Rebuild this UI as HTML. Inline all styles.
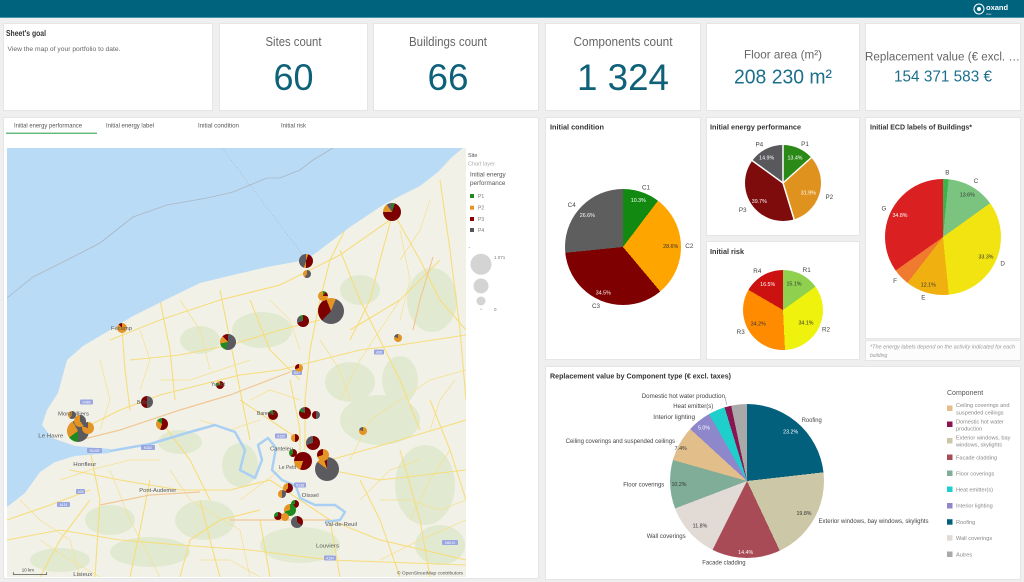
<!DOCTYPE html>
<html><head><meta charset="utf-8"><title>Portfolio map</title>
<style>
*{margin:0;padding:0;box-sizing:border-box}
html,body{width:1024px;height:582px;overflow:hidden}
body{background:#efefef;font-family:"Liberation Sans",sans-serif;position:relative}
.c{position:absolute;background:#fff;border:1px solid #e5e5e5}
.p{position:absolute;border-radius:50%}
svg{position:absolute;left:0;top:0}
</style></head><body>
<div style="position:absolute;left:0;top:0;width:1024px;height:18px;background:#00637e;border-bottom:1px solid #4b93a8"></div>

<div class="c" style="left:3px;top:23px;width:210px;height:88px"></div>
<div class="c" style="left:219px;top:23px;width:149px;height:88px"></div>
<div class="c" style="left:373px;top:23px;width:166px;height:88px"></div>
<div class="c" style="left:545px;top:23px;width:156px;height:88px"></div>
<div class="c" style="left:706px;top:23px;width:154px;height:88px"></div>
<div class="c" style="left:865px;top:23px;width:156px;height:88px"></div>

<div class="c" style="left:3px;top:117px;width:536px;height:462px"></div>
<div class="c" style="left:545px;top:117px;width:156px;height:243px"></div>
<div class="c" style="left:706px;top:117px;width:154px;height:119px"></div>
<div class="c" style="left:706px;top:241px;width:154px;height:119px"></div>
<div class="c" style="left:865px;top:117px;width:156px;height:222px"></div>
<div class="c" style="left:865px;top:340px;width:156px;height:21px;background:#fcfcfc"></div>
<div class="c" style="left:545px;top:366px;width:476px;height:214px"></div>

<!-- MAP -->
<svg style="left:7px;top:148px" width="459" height="429" viewBox="7 148 459 429">
<rect x="7" y="148" width="459" height="429" fill="#f2f1e8"/>
<g fill="#dce8ca" opacity=".75">
<ellipse cx="380" cy="420" rx="40" ry="25"/><ellipse cx="425" cy="485" rx="30" ry="40"/>
<ellipse cx="300" cy="545" rx="40" ry="18"/><ellipse cx="205" cy="520" rx="30" ry="20"/>
<ellipse cx="432" cy="300" rx="25" ry="32"/><ellipse cx="262" cy="330" rx="30" ry="18"/>
<ellipse cx="150" cy="552" rx="40" ry="15"/><ellipse cx="350" cy="382" rx="25" ry="20"/>
<ellipse cx="440" cy="545" rx="25" ry="20"/><ellipse cx="180" cy="442" rx="22" ry="12"/>
<ellipse cx="240" cy="465" rx="18" ry="22"/><ellipse cx="360" cy="290" rx="20" ry="15"/>
<ellipse cx="110" cy="520" rx="25" ry="15"/><ellipse cx="400" cy="380" rx="18" ry="24"/>
<ellipse cx="60" cy="560" rx="30" ry="12"/><ellipse cx="200" cy="340" rx="20" ry="14"/>
</g>
<g fill="none" stroke="#f5e08e" stroke-width=".7" stroke-linejoin="round">
<path d="M20 500L40 520 70 540 80 577"/><path d="M110 470L130 520 160 577"/>
<path d="M170 470L190 500 240 530 250 577"/><path d="M240 500L280 470"/>
<path d="M350 460L370 420 400 400 430 380 466 370"/><path d="M360 500L390 470 420 460"/>
<path d="M380 560L420 540 466 520"/><path d="M340 400L360 360 380 330 400 300"/>
<path d="M270 300L290 320 300 350"/><path d="M180 300L200 330 210 370"/>
<path d="M140 330L150 360 140 390"/><path d="M100 360L110 400 100 430"/>
<path d="M400 230L410 280 400 320"/><path d="M430 200L420 230 400 260"/>
<path d="M250 400L270 390 300 400"/><path d="M200 420L230 430 260 420"/>
<path d="M60 480L90 470 130 460 160 460"/><path d="M40 540L70 560 100 577"/>
<path d="M200 560L230 560 260 577"/><path d="M380 500L410 500 440 510 466 500"/>
<path d="M430 430L440 400 455 380"/><path d="M320 340L340 370 350 400"/>
<path d="M250 360L220 370 190 380 160 380"/><path d="M450 450L430 480 410 520"/>
</g>
<g fill="none" stroke="#f6dd7c" stroke-width="1.1" stroke-linejoin="round">
<path d="M80 430L120 410 160 395 200 385 240 375 280 370 320 360 360 350 400 345 466 335"/>
<path d="M305 450L305 400 310 350 320 300 330 260 345 230"/>
<path d="M122 330L125 370 130 410"/>
<path d="M70 470L120 480 180 490 230 490 270 480 300 500 330 520 380 540 466 560"/>
<path d="M90 450L100 500 95 577"/>
<path d="M300 470L300 430 290 380"/>
<path d="M330 460L400 440 466 420"/>
<path d="M330 470L380 480 466 470"/>
<path d="M220 290L230 340 240 390 250 440"/>
<path d="M160 300L170 350 175 400"/>
<path d="M393 212L420 260 440 300 466 330"/>
<path d="M393 212L380 260 370 300 350 340"/>
<path d="M200 500L210 540 220 577"/>
<path d="M150 480L140 530 130 577"/>
<path d="M260 520L270 577"/><path d="M330 520L340 577"/>
<path d="M400 450L420 520 430 577"/>
<path d="M7 540L60 530 120 540 180 545 250 550 330 560 466 565"/>
<path d="M110 340L160 320 220 300 280 285 340 255 390 220"/>
<path d="M440 180L450 250 460 330 466 400"/>
<path d="M7 520L50 505 90 490"/><path d="M40 577L60 540 90 500"/>
<path d="M130 360L180 355 230 345 280 330 320 320"/>
<path d="M250 300L270 350 300 380"/><path d="M340 250L360 300 380 340 400 380 420 430"/>
<path d="M160 420L190 460 210 500"/><path d="M240 400L270 420 300 440"/>
<path d="M360 480L380 520 400 577"/><path d="M430 400L450 450 466 500"/>
<path d="M180 577L190 540 220 520 260 510"/><path d="M350 330L400 300 440 260"/>
</g>
<g fill="none" stroke="#f1c894" stroke-width="1.2">
<path d="M80 440L120 430 180 410 230 395 290 372"/>
<path d="M413 330L420 300 433 257"/>
<path d="M230 520L280 520 330 520"/>
<path d="M100 505L150 495 200 492"/>
</g>
<path fill="#b9dbf5" d="M7 148L463 148 452 157 438 172 420 186 400 196 383 205 350 227 333 240 313 255 300 261 267 267 233 275 200 283 167 299 133 316 110 330 83 346 67 360 58 393 47 410 42 425 52 438 75 446 110 449 110 453 75 456 55 462 40 472 25 493 7 507Z"/>
<path fill="none" stroke="#aab6c4" stroke-width=".8" d="M7 298L33 277 67 260 100 243 133 217 167 205 207 198 233 192 267 178 280 178 300 170 313 160 333 148"/>
<path fill="none" stroke="#9fb0c0" stroke-width=".6" stroke-dasharray="1 2" d="M222 148L305 258"/>
<path fill="none" stroke="#a9d0f2" stroke-width="2.5" stroke-linejoin="round" d="M110 451L150 444 190 432 215 425 235 432 245 450 240 470 255 478 262 460 258 445 268 438 276 448 272 470 282 480 296 486 300 498 315 505 335 505 345 512 340 520 325 522"/>
<g fill="#9aa6e0"><rect x="324" y="555.5" width="12" height="5" rx="1"/><rect x="442" y="540" width="16" height="5" rx="1"/><rect x="292" y="370" width="10" height="5" rx="1"/><rect x="275" y="433.5" width="12" height="5" rx="1"/><rect x="294" y="482.5" width="12" height="5" rx="1"/><rect x="76" y="489" width="9" height="5" rx="1"/><rect x="57" y="502" width="13" height="5" rx="1"/><rect x="80" y="399.5" width="13" height="5" rx="1"/><rect x="87" y="448" width="15" height="5" rx="1"/><rect x="141" y="445" width="14" height="5" rx="1"/><rect x="374" y="349.5" width="10" height="5" rx="1"/></g>
</svg>

<!-- map pies -->
<div class="p" style="left:383px;top:203px;width:18px;height:18px;background:conic-gradient(#1f8a1f 0 5%,#7d0000 0 75%,#e39424 0 90%,#5a5a5f 0)"></div>
<div class="p" style="left:299px;top:254px;width:14px;height:14px;background:conic-gradient(#e39424 0 5%,#7d0000 0 50%,#e39424 0 55%,#5a5a5f 0)"></div>
<div class="p" style="left:303px;top:270px;width:8px;height:8px;background:conic-gradient(#5a5a5f 0 60%,#e39424 0)"></div>
<div class="p" style="left:318px;top:298px;width:26px;height:26px;background:conic-gradient(#e39424 0 6%,#5a5a5f 0 62%,#7d0000 0 94%,#e39424 0)"></div>
<div class="p" style="left:318px;top:291px;width:10px;height:10px;background:conic-gradient(#1f8a1f 0 10%,#7d0000 0 25%,#e39424 0)"></div>
<div class="p" style="left:297px;top:315px;width:12px;height:12px;background:conic-gradient(#7d0000 0 70%,#5a5a5f 0 90%,#1f8a1f 0)"></div>
<div class="p" style="left:220px;top:334px;width:16px;height:16px;background:conic-gradient(#5a5a5f 0 55%,#1f8a1f 0 72%,#e39424 0 88%,#7d0000 0)"></div>
<div class="p" style="left:394px;top:334px;width:8px;height:8px;background:conic-gradient(#e39424 0 80%,#5a5a5f 0)"></div>
<div class="p" style="left:117px;top:323px;width:10px;height:10px;background:conic-gradient(#e39424 0 88%,#7d0000 0)"></div>
<div class="p" style="left:295px;top:364px;width:8px;height:8px;background:conic-gradient(#e39424 0 70%,#7d0000 0)"></div>
<div class="p" style="left:67px;top:420px;width:22px;height:22px;background:conic-gradient(#5a5a5f 0 50%,#1f8a1f 0 65%,#e39424 0 92%,#5a5a5f 0)"></div>
<div class="p" style="left:82px;top:422px;width:12px;height:12px;background:conic-gradient(#e39424 0 80%,#5a5a5f 0)"></div>
<div class="p" style="left:74px;top:415px;width:12px;height:12px;background:conic-gradient(#5a5a5f 0 40%,#e39424 0)"></div>
<div class="p" style="left:68px;top:411px;width:8px;height:8px;background:conic-gradient(#5a5a5f 0 60%,#e39424 0)"></div>
<div class="p" style="left:141px;top:396px;width:12px;height:12px;background:conic-gradient(#5a5a5f 0 50%,#7d0000 0)"></div>
<div class="p" style="left:156px;top:418px;width:12px;height:12px;background:conic-gradient(#7d0000 0 55%,#e39424 0 85%,#1f8a1f 0)"></div>
<div class="p" style="left:216px;top:381px;width:8px;height:8px;background:conic-gradient(#7d0000 0 70%,#1f8a1f 0 85%,#e39424 0)"></div>
<div class="p" style="left:268px;top:410px;width:10px;height:10px;background:conic-gradient(#7d0000 0 85%,#1f8a1f 0)"></div>
<div class="p" style="left:299px;top:407px;width:12px;height:12px;background:conic-gradient(#7d0000 0 80%,#1f8a1f 0 88%,#5a5a5f 0)"></div>
<div class="p" style="left:312px;top:411px;width:8px;height:8px;background:conic-gradient(#5a5a5f 0 50%,#7d0000 0)"></div>
<div class="p" style="left:359px;top:427px;width:8px;height:8px;background:conic-gradient(#e39424 0 80%,#5a5a5f 0)"></div>
<div class="p" style="left:315px;top:457px;width:24px;height:24px;background:conic-gradient(#5a5a5f 0 85%,#e39424 0 95%,#7d0000 0)"></div>
<div class="p" style="left:306px;top:436px;width:14px;height:14px;background:conic-gradient(#7d0000 0 70%,#5a5a5f 0)"></div>
<div class="p" style="left:291px;top:434px;width:8px;height:8px;background:conic-gradient(#7d0000 0 50%,#e39424 0)"></div>
<div class="p" style="left:317px;top:449px;width:12px;height:12px;background:conic-gradient(#e39424 0 70%,#7d0000 0)"></div>
<div class="p" style="left:294px;top:452px;width:18px;height:18px;background:conic-gradient(#7d0000 0 55%,#e39424 0 75%,#7d0000 0)"></div>
<div class="p" style="left:289px;top:449px;width:8px;height:8px;background:conic-gradient(#7d0000 0 60%,#1f8a1f 0)"></div>
<div class="p" style="left:283px;top:483px;width:10px;height:10px;background:conic-gradient(#7d0000 0 60%,#e39424 0)"></div>
<div class="p" style="left:278px;top:490px;width:8px;height:8px;background:conic-gradient(#5a5a5f 0 50%,#e39424 0)"></div>
<div class="p" style="left:291px;top:500px;width:8px;height:8px;background:conic-gradient(#7d0000 0 70%,#1f8a1f 0)"></div>
<div class="p" style="left:284px;top:504px;width:12px;height:12px;background:conic-gradient(#1f8a1f 0 70%,#e39424 0)"></div>
<div class="p" style="left:291px;top:516px;width:12px;height:12px;background:conic-gradient(#7d0000 0 35%,#5a5a5f 0)"></div>
<div class="p" style="left:274px;top:512px;width:8px;height:8px;background:conic-gradient(#7d0000 0 70%,#1f8a1f 0)"></div>
<div class="p" style="left:281px;top:513px;width:8px;height:8px;background:#e39424"></div>

<!-- chart pies -->
<div class="p" style="left:564.7px;top:189.3px;width:116px;height:116px;background:conic-gradient(#128a12 0 10.3%,#ffa500 0 38.9%,#7f0000 0 73.4%,#5e5e5e 0)"></div>
<div class="p" style="left:745px;top:145px;width:76px;height:76px;background:conic-gradient(#2b8a17 0 13.4%,#e0921f 0 45.3%,#7e0c0c 0 85%,#58585d 0)"></div>
<div class="p" style="left:743.3px;top:269.5px;width:80px;height:80px;background:conic-gradient(#8fd14f 0 15.1%,#eef20c 0 49.2%,#ff8c00 0 83.4%,#cc1111 0)"></div>
<div class="p" style="left:884.7px;top:178.7px;width:116px;height:116px;background:conic-gradient(#3cb44b 0 1.5%,#7bc47f 0 15.1%,#f2e410 0 48.4%,#f0b010 0 60.5%,#f07a30 0 65.2%,#da2020 0)"></div>
<div class="p" style="left:669.7px;top:403.7px;width:154px;height:154px;background:conic-gradient(#02607d 0 23.2%,#ccc7a6 0 43%,#a84b56 0 57.4%,#e1dad5 0 69.2%,#80ad98 0 79.4%,#e2bf8a 0 86.8%,#8e87cb 0 91.8%,#1ecfcc 0 95.3%,#8a1550 0 96.7%,#a9a9a9 0)"></div>

<!-- overlay -->
<svg width="1024" height="582" viewBox="0 0 1024 582" style="font-family:'Liberation Sans',sans-serif">
<circle cx="979" cy="9" r="5" fill="none" stroke="#fff" stroke-width="1"/><circle cx="979" cy="9" r="2" fill="#fff"/>
<text x="986" y="10" font-size="7.5" font-weight="bold" fill="#fff">oxand</text>
<text x="986" y="15" font-size="2.5" fill="#cfe3ea">stres</text>

<text x="6" y="36" font-size="8" font-weight="bold" fill="#333" textLength="40" lengthAdjust="spacingAndGlyphs">Sheet's goal</text>
<text x="7.5" y="51" font-size="6.5" fill="#666" textLength="113" lengthAdjust="spacingAndGlyphs">View the map of your portfolio to date.</text>
<g fill="#666" font-size="13" text-anchor="middle">
<text x="293.5" y="45.8" textLength="56" lengthAdjust="spacingAndGlyphs">Sites count</text>
<text x="448" y="45.8" textLength="78" lengthAdjust="spacingAndGlyphs">Buildings count</text>
<text x="623" y="45.8" textLength="99" lengthAdjust="spacingAndGlyphs">Components count</text>
<text x="783" y="58.5" font-size="12" textLength="78" lengthAdjust="spacingAndGlyphs">Floor area (m²)</text>
<text x="942.5" y="60.5" font-size="11.5" textLength="155" lengthAdjust="spacingAndGlyphs">Replacement value (€ excl. …</text>
</g>
<g fill="#0f6079" text-anchor="middle" font-size="37">
<text x="293.5" y="90" textLength="40" lengthAdjust="spacingAndGlyphs">60</text>
<text x="448" y="90" textLength="41" lengthAdjust="spacingAndGlyphs">66</text>
<text x="623" y="90" textLength="92" lengthAdjust="spacingAndGlyphs">1 324</text>
</g>
<g fill="#1b6f8c" text-anchor="middle">
<text x="783" y="83.3" font-size="20" textLength="98" lengthAdjust="spacingAndGlyphs">208 230 m²</text>
<text x="943" y="81.7" font-size="16" textLength="98" lengthAdjust="spacingAndGlyphs">154 371 583 €</text>
</g>

<g font-size="6" fill="#555">
<text x="14" y="127.5" textLength="68" lengthAdjust="spacingAndGlyphs">Initial energy performance</text>
<text x="106" y="127.5" textLength="48" lengthAdjust="spacingAndGlyphs">Initial energy label</text>
<text x="198" y="127.5" textLength="41" lengthAdjust="spacingAndGlyphs">Initial condition</text>
<text x="281" y="127.5" textLength="25" lengthAdjust="spacingAndGlyphs">Initial risk</text>
</g>
<rect x="6" y="132.6" width="91" height="1.3" fill="#52b36b"/>

<g font-size="5.5" fill="#555">
<text x="111" y="330" textLength="21" lengthAdjust="spacingAndGlyphs">Fécamp</text>
<text x="58" y="415.3" textLength="31" lengthAdjust="spacingAndGlyphs">Montivilliers</text>
<text x="38.3" y="437.3" textLength="25" lengthAdjust="spacingAndGlyphs">Le Havre</text>
<text x="73.3" y="466" textLength="23" lengthAdjust="spacingAndGlyphs">Honfleur</text>
<text x="139.3" y="492" textLength="37" lengthAdjust="spacingAndGlyphs">Pont-Audemer</text>
<text x="73.3" y="576" textLength="19" lengthAdjust="spacingAndGlyphs">Lisieux</text>
<text x="270" y="450.3" textLength="23" lengthAdjust="spacingAndGlyphs">Canteleu</text>
<text x="301.7" y="497" textLength="17" lengthAdjust="spacingAndGlyphs">Oissel</text>
<text x="325" y="526" textLength="32" lengthAdjust="spacingAndGlyphs">Val-de-Reuil</text>
<text x="316" y="547.7" textLength="23" lengthAdjust="spacingAndGlyphs">Louviers</text>
<text x="257" y="415" font-size="5">Barentin</text>
<text x="211" y="386" font-size="5">Yvetot</text>
<text x="137" y="404" font-size="5">Bolbec</text>
<text x="279" y="469" font-size="5">Le Petit</text>
</g>
<g font-size="3.3" fill="#fff" text-anchor="middle">
<text x="330" y="559.5">A154</text><text x="450" y="544">D6014</text><text x="297" y="374">N27</text><text x="281" y="437.5">A150</text><text x="300" y="486.5">N138</text><text x="80.5" y="493">A29</text><text x="63.5" y="506">A131</text><text x="86.5" y="403.5">D489</text><text x="94.5" y="452">N1029</text><text x="148" y="449">N182</text><text x="379" y="353.5">A28</text>
</g>
<path d="M13.3 572V574.5H46.7V572" fill="none" stroke="#555" stroke-width=".7"/>
<text x="21.7" y="571.5" font-size="4.5" fill="#444">10 km</text>
<text x="397" y="574.5" font-size="4.6" fill="#555" textLength="66" lengthAdjust="spacingAndGlyphs">© OpenStreetMap contributors</text>

<text x="468" y="157" font-size="5.5" fill="#555">Site</text>
<text x="468" y="165.5" font-size="5.5" fill="#aaa">Chart layer</text>
<text x="470" y="176.5" font-size="6.3" fill="#555">Initial energy</text>
<text x="470" y="185" font-size="6.3" fill="#555">performance</text>
<rect x="470" y="194" width="4" height="4" fill="#1f8a1f"/>
<rect x="470" y="205.7" width="4" height="4" fill="#e39424"/>
<rect x="470" y="217" width="4" height="4" fill="#8b0000"/>
<rect x="470" y="228" width="4" height="4" fill="#555"/>
<g font-size="5" fill="#777">
<text x="478" y="198">P1</text><text x="478" y="209.7">P2</text><text x="478" y="221">P3</text><text x="478" y="232">P4</text>
<text x="468.5" y="249">-</text>
<text x="494" y="259" font-size="4.5">1 071</text>
<text x="494" y="311" font-size="4.5">0</text>
</g>
<circle cx="481" cy="264.3" r="10.5" fill="#d4d4d4"/>
<circle cx="481" cy="286" r="7.5" fill="#d4d4d4"/>
<circle cx="481" cy="301" r="4.5" fill="#d4d4d4"/>
<circle cx="481" cy="309.3" r="1" fill="#d4d4d4"/>

<g font-size="7.5" font-weight="bold" fill="#333">
<text x="550" y="129.5" textLength="54" lengthAdjust="spacingAndGlyphs">Initial condition</text>
<text x="710" y="129.5" textLength="91" lengthAdjust="spacingAndGlyphs">Initial energy performance</text>
<text x="710" y="253.8" textLength="34" lengthAdjust="spacingAndGlyphs">Initial risk</text>
<text x="870" y="129.5" textLength="102" lengthAdjust="spacingAndGlyphs">Initial ECD labels of Buildings*</text>
<text x="550" y="378.5" textLength="181" lengthAdjust="spacingAndGlyphs">Replacement value by Component type (€ excl. taxes)</text>
</g>

<g stroke="#fff" stroke-width="1.5">
<line x1="783" y1="183" x2="783" y2="144"/><line x1="783" y1="183" x2="812" y2="157"/>
<line x1="783" y1="183" x2="794.3" y2="220"/><line x1="783" y1="183" x2="752" y2="160.5"/>
</g>

<g font-size="6.3" fill="#444" text-anchor="middle">
<text x="646" y="189.5">C1</text><text x="689.3" y="248.2">C2</text><text x="596" y="308.2">C3</text><text x="571.7" y="207.2">C4</text>
<text x="805" y="146.2">P1</text><text x="829.3" y="199">P2</text><text x="742.7" y="212.2">P3</text><text x="759.3" y="146.5">P4</text>
<text x="806.7" y="272.2">R1</text><text x="826" y="331.5">R2</text><text x="740.7" y="334">R3</text><text x="757.3" y="273">R4</text>
<text x="947.3" y="174.5">B</text><text x="976" y="183.2">C</text><text x="1002.7" y="265.5">D</text><text x="923.3" y="299.5">E</text><text x="895" y="283">F</text><text x="884" y="210.5">G</text>
</g>
<g font-size="5.3" text-anchor="middle">
<text x="638.3" y="202" fill="#fff">10.3%</text><text x="670.7" y="248" fill="#333">28.6%</text><text x="603.3" y="294.7" fill="#fff">34.5%</text><text x="587.3" y="217" fill="#fff">26.6%</text>
<text x="795" y="159.7" fill="#fff">13.4%</text><text x="808.3" y="194.7" fill="#fff">31.9%</text><text x="759.3" y="203" fill="#fff">39.7%</text><text x="766.7" y="159.7" fill="#fff">14.9%</text>
<text x="794" y="285.3" fill="#333">15.1%</text><text x="806" y="324.7" fill="#333">34.1%</text><text x="758.3" y="325.3" fill="#333">34.2%</text><text x="767.7" y="286" fill="#fff">16.5%</text>
<text x="967.3" y="196.3" fill="#333">13.6%</text><text x="986" y="258.7" fill="#333">33.3%</text><text x="928.3" y="286.3" fill="#333">12.1%</text><text x="900" y="217" fill="#fff">34.8%</text>
<text x="790.7" y="433.7" fill="#fff">23.2%</text><text x="804" y="515" fill="#333">19.8%</text><text x="745.7" y="554" fill="#fff">14.4%</text><text x="700" y="527.7" fill="#333">11.8%</text><text x="679" y="486" fill="#333">10.2%</text><text x="680.7" y="450" fill="#333">7.4%</text><text x="704" y="429.7" fill="#fff">5.0%</text>
</g>

<g font-size="5" font-style="italic" fill="#999">
<text x="870" y="348.5" textLength="145" lengthAdjust="spacingAndGlyphs">*The energy labels depend on the activity indicated for each</text>
<text x="870" y="357">building</text>
</g>

<g font-size="6.5" fill="#444">
<text x="801.7" y="422.2" textLength="20" lengthAdjust="spacingAndGlyphs">Roofing</text>
<text x="818.5" y="523" textLength="110" lengthAdjust="spacingAndGlyphs">Exterior windows, bay windows, skylights</text>
<text x="702.3" y="564.5" textLength="43.3" lengthAdjust="spacingAndGlyphs">Facade cladding</text>
<text x="646.7" y="538" textLength="39" lengthAdjust="spacingAndGlyphs">Wall coverings</text>
<text x="623.3" y="486.5" textLength="41" lengthAdjust="spacingAndGlyphs">Floor coverings</text>
<text x="565.7" y="443.2" textLength="109.3" lengthAdjust="spacingAndGlyphs">Ceiling coverings and suspended ceilings</text>
<text x="653.3" y="419" textLength="41.7" lengthAdjust="spacingAndGlyphs">Interior lighting</text>
<text x="673.3" y="408" textLength="40" lengthAdjust="spacingAndGlyphs">Heat emitter(s)</text>
<text x="641.7" y="398.2" textLength="83.3" lengthAdjust="spacingAndGlyphs">Domestic hot water production</text>
</g>
<path d="M725 397L726.8 405" stroke="#999" stroke-width=".6" fill="none"/>

<text x="947" y="395" font-size="7" fill="#555">Component</text>
<g>
<rect x="947" y="405.5" width="5.5" height="5.5" fill="#e2bf8a"/>
<rect x="947" y="421.5" width="5.5" height="5.5" fill="#8a1550"/>
<rect x="947" y="438" width="5.5" height="5.5" fill="#ccc7a6"/>
<rect x="947" y="454.5" width="5.5" height="5.5" fill="#a84b56"/>
<rect x="947" y="470.5" width="5.5" height="5.5" fill="#80ad98"/>
<rect x="947" y="486.5" width="5.5" height="5.5" fill="#1ecfcc"/>
<rect x="947" y="503" width="5.5" height="5.5" fill="#8e87cb"/>
<rect x="947" y="519.2" width="5.5" height="5.5" fill="#02607d"/>
<rect x="947" y="535.2" width="5.5" height="5.5" fill="#e1dad5"/>
<rect x="947" y="551.5" width="5.5" height="5.5" fill="#a9a9a9"/>
</g>
<g font-size="5.6" fill="#888">
<text x="956" y="407">Ceiling coverings and</text><text x="956" y="414.5">suspended ceilings</text>
<text x="956" y="423.3">Domestic hot water</text><text x="956" y="430.7">production</text>
<text x="956" y="439.7">Exterior windows, bay</text><text x="956" y="446.7">windows, skylights</text>
<text x="956" y="459.3">Facade cladding</text>
<text x="956" y="475.3">Floor coverings</text>
<text x="956" y="491.3">Heat emitter(s)</text>
<text x="956" y="507.7">Interior lighting</text>
<text x="956" y="524">Roofing</text>
<text x="956" y="540">Wall coverings</text>
<text x="956" y="556.3">Autres</text>
</g>
</svg>
</body></html>
